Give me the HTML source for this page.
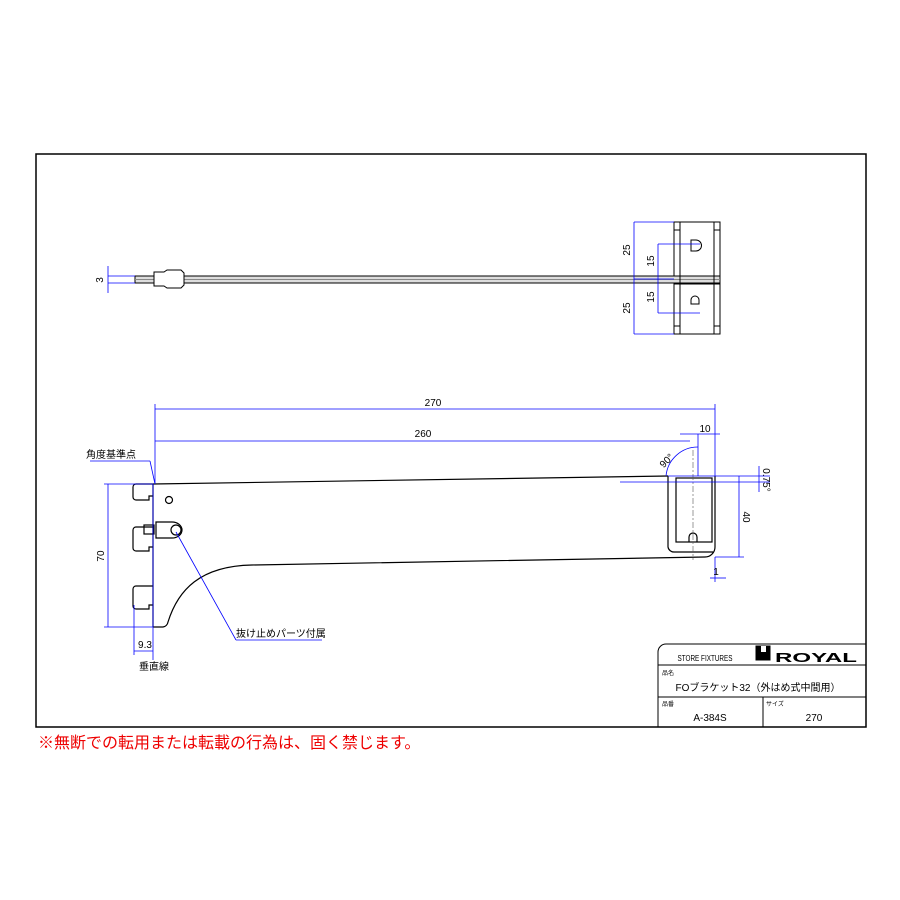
<!DOCTYPE html>
<html><head><meta charset="utf-8"><style>
body{margin:0;background:#fff;width:900px;height:900px;overflow:hidden}
svg{display:block}
text{font-family:"Liberation Sans","Noto Sans CJK JP",sans-serif}
</style></head><body>
<svg width="900" height="900" viewBox="0 0 900 900">
<rect x="36" y="154" width="830" height="573" fill="none" stroke="#000" stroke-width="1.5"/>
<!-- TOP VIEW -->
<g stroke="#000" fill="none" stroke-width="1">
<rect x="135" y="276" width="585" height="7" fill="#ddd"/>
<line x1="135" y1="279.5" x2="720" y2="279.5" stroke="#888"/>
<path d="M154 272 h10 l3 -2 h14 l3 3 v12 l-3 3 h-14 l-3 -2 h-10 z" fill="#fff"/>
<rect x="674" y="222" width="46" height="54" fill="#fff"/>
<rect x="674" y="284" width="46" height="50" fill="#fff"/>
<line x1="680" y1="222" x2="680" y2="334"/><line x1="714" y1="222" x2="714" y2="334"/>
<line x1="674" y1="230" x2="680" y2="230"/><line x1="674" y1="326" x2="680" y2="326"/>
<line x1="714" y1="230" x2="720" y2="230"/><line x1="714" y1="326" x2="720" y2="326"/>
<path d="M691 240 h5 a4 4 0 0 1 0 11 h-5 z"/>
<path d="M691 304 v-4 a4 4 0 0 1 8 0 v4 z"/>
</g>
<g stroke="#00f" stroke-width="0.8" fill="none">
<line x1="108" y1="276" x2="135" y2="276"/><line x1="108" y1="283" x2="135" y2="283"/>
<line x1="108" y1="266" x2="108" y2="293"/>
<line x1="634" y1="222" x2="674" y2="222"/><line x1="634" y1="334" x2="674" y2="334"/>
<line x1="634" y1="279" x2="674" y2="279"/>
<line x1="634" y1="222" x2="634" y2="334"/>
<line x1="658" y1="244" x2="700" y2="244"/><line x1="658" y1="313" x2="700" y2="313"/>
<line x1="658" y1="244" x2="658" y2="313"/>
</g>
<g font-size="10" fill="#000">
<text transform="translate(103 280) rotate(-90)" text-anchor="middle">3</text>
<text transform="translate(630 250) rotate(-90)" text-anchor="middle">25</text>
<text transform="translate(630 308) rotate(-90)" text-anchor="middle">25</text>
<text transform="translate(654 261) rotate(-90)" text-anchor="middle">15</text>
<text transform="translate(654 297) rotate(-90)" text-anchor="middle">15</text>
</g>
<!-- SIDE VIEW -->
<g stroke="#000" fill="none" stroke-width="1.2">
<path d="M153 484 L668 476"/>
<path d="M153 484 h-17 a3 3 0 0 0 -3 3 v10 a3 3 0 0 0 3 3 h13 v-4 h4"/>
<path d="M153 527 h-17 a3 3 0 0 0 -3 3 v18 a3 3 0 0 0 3 3 h13 v-4 h4"/>
<path d="M153 586 h-17 a3 3 0 0 0 -3 3 v17 a3 3 0 0 0 3 3 h13 v-4 h4"/>
<line x1="153" y1="484" x2="153" y2="627"/>
<path d="M153 627 h10 a6 6 0 0 0 5 -5 C178 590 200 566 252 565 L705 557 a10 10 0 0 0 10 -10 V476"/>
<circle cx="169" cy="500" r="3.5"/>
<path d="M668 476 V547 a6 6 0 0 0 6 5 H713"/>
<rect x="676" y="478" width="36" height="64"/>
<path d="M689 542 v-5 a4 4 0 0 1 8 0 v5"/>
<path d="M156 522 h16 a10 8 0 0 1 0 16 h-16 z" fill="#fff"/>
<circle cx="176" cy="530" r="5"/>
<rect x="144" y="525" width="10" height="9"/>
</g>
<line x1="693" y1="450" x2="693" y2="560" stroke="#555" stroke-width="0.6" stroke-dasharray="6,2,2,2"/>
<g stroke="#00f" stroke-width="0.8" fill="none">
<line x1="155" y1="404" x2="155" y2="484"/><line x1="715" y1="404" x2="715" y2="476"/>
<line x1="155" y1="409" x2="715" y2="409"/>
<line x1="155" y1="441" x2="690" y2="441"/><line x1="698" y1="434" x2="698" y2="476"/>
<line x1="680" y1="434" x2="720" y2="434"/>
<line x1="90" y1="461" x2="150" y2="461"/><line x1="150" y1="461" x2="155" y2="484"/>
<line x1="104" y1="484" x2="153" y2="484"/><line x1="104" y1="627" x2="153" y2="627"/>
<line x1="108" y1="484" x2="108" y2="627"/>
<line x1="153" y1="484" x2="153" y2="660"/><line x1="134" y1="605" x2="134" y2="655"/>
<line x1="134" y1="651" x2="153" y2="651"/>
<line x1="176" y1="532" x2="236" y2="640"/><line x1="236" y1="640" x2="322" y2="640"/>
<path d="M666 476 A32 32 0 0 1 698 447"/>
<line x1="668" y1="476" x2="770" y2="476"/><line x1="620" y1="482" x2="770" y2="482"/>
<line x1="715" y1="557" x2="744" y2="557"/>
<line x1="739" y1="476" x2="739" y2="557"/>
<line x1="759" y1="466" x2="759" y2="492"/>
<line x1="710" y1="578" x2="726" y2="578"/><line x1="715" y1="557" x2="715" y2="582"/>
</g>
<g font-size="10" fill="#000">
<text x="433" y="406" text-anchor="middle">270</text>
<text x="423" y="437" text-anchor="middle">260</text>
<text x="705" y="432" text-anchor="middle">10</text>
<text x="86" y="458" font-size="10">角度基準点</text>
<text transform="translate(104 556) rotate(-90)" text-anchor="middle">70</text>
<text x="145" y="648" text-anchor="middle">9.3</text>
<text x="139" y="670" font-size="10">垂直線</text>
<text x="236" y="637" font-size="10">抜け止めパーツ付属</text>
<text transform="translate(669 463) rotate(-45)" text-anchor="middle">90°</text>
<text transform="translate(763 480) rotate(90)" text-anchor="middle">0.75°</text>
<text transform="translate(743 517) rotate(90)" text-anchor="middle">40</text>
<text x="716" y="575" text-anchor="middle">1</text>
</g>
<!-- TITLE BLOCK -->
<g stroke="#000" fill="none" stroke-width="1">
<path d="M658 727 V652 a8 8 0 0 1 8 -8 H866"/>
<line x1="658" y1="665" x2="866" y2="665"/>
<line x1="658" y1="697" x2="866" y2="697"/>
<line x1="763" y1="697" x2="763" y2="727"/>
<rect x="756" y="646" width="14" height="14" fill="#000"/>
</g>
<rect x="761" y="646" width="5" height="6" fill="#fff"/>
<text x="705" y="661" font-size="8" text-anchor="middle" textLength="55" lengthAdjust="spacingAndGlyphs">STORE FIXTURES</text>
<text x="816" y="662" font-size="13" font-weight="bold" text-anchor="middle" textLength="82" lengthAdjust="spacingAndGlyphs">ROYAL</text>
<text x="662" y="675" font-size="6">品名</text>
<text x="758" y="691" font-size="10" text-anchor="middle">FOブラケット32（外はめ式中間用）</text>
<text x="662" y="706" font-size="6">品番</text>
<text x="766" y="706" font-size="6">サイズ</text>
<text x="710" y="721" font-size="10" text-anchor="middle">A-384S</text>
<text x="814" y="721" font-size="10" text-anchor="middle">270</text>
<text x="38" y="748" font-size="16" fill="#e00">※無断での転用または転載の行為は、固く禁じます。</text>
</svg>
</body></html>
